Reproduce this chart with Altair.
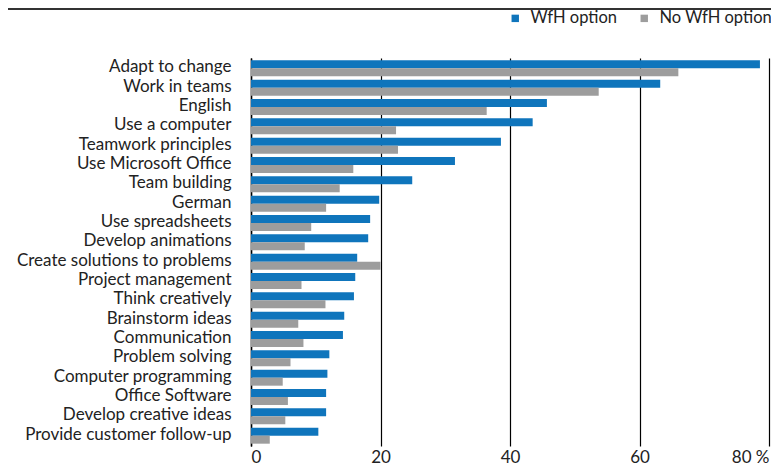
import altair as alt
import pandas as pd

categories = [
    "Adapt to change", "Work in teams", "English", "Use a computer",
    "Teamwork principles", "Use Microsoft Office", "Team building", "German",
    "Use spreadsheets", "Develop animations", "Create solutions to problems",
    "Project management", "Think creatively", "Brainstorm ideas",
    "Communication", "Problem solving", "Computer programming",
    "Office Software", "Develop creative ideas", "Provide customer follow-up",
]
wfh = [78.6, 63.2, 45.7, 43.5, 38.6, 31.5, 24.9, 19.8, 18.4, 18.1,
       16.4, 16.1, 15.9, 14.4, 14.2, 12.1, 11.8, 11.6, 11.6, 10.4]
no_wfh = [66.0, 53.7, 36.4, 22.4, 22.7, 15.8, 13.7, 11.6, 9.3, 8.3,
          20.0, 7.8, 11.5, 7.3, 8.1, 6.1, 4.9, 5.7, 5.3, 2.9]
series = ["WfH option", "No WfH option"]
colors = ["#0f75bc", "#9d9d9d"]
x_ticks = [0, 20, 40, 60, 80]

rows = []
for c, a, b in zip(categories, wfh, no_wfh):
    rows.append({"skill": c, "group": series[0], "value": a})
    rows.append({"skill": c, "group": series[1], "value": b})
df = pd.DataFrame(rows)

FONT = "Lato"

bars = alt.Chart(df).mark_bar().encode(
    y=alt.Y("skill:N", sort=categories, title=None,
            scale=alt.Scale(paddingInner=0.17, paddingOuter=0.12),
            axis=alt.Axis(labelFontSize=17, labelColor="#222222", labelFont=FONT,
                          ticks=False, domainColor="#000000", domainWidth=1.5,
                          labelPadding=20, labelLimit=300, labelBaseline="middle",
                          labelOffset=-1)),
    yOffset=alt.YOffset("group:N", sort=series),
    x=alt.X("value:Q", title=None,
            scale=alt.Scale(domain=[0, 80], nice=False),
            axis=alt.Axis(values=x_ticks, grid=True, gridColor="#000000",
                          gridWidth=1.2, domain=False, ticks=False,
                          labelFontSize=17, labelFont=FONT, labelColor="#222222",
                          labelPadding=3,
                          labelExpr="datum.value == 80 ? '80 %' : datum.label")),
    color=alt.Color("group:N", sort=series,
                    scale=alt.Scale(domain=series, range=colors),
                    legend=alt.Legend(title=None, orient="none", direction="horizontal",
                                      legendX=256, legendY=-48, symbolType="square",
                                      symbolSize=55, symbolStrokeWidth=0,
                                      labelFontSize=16.5, labelFont=FONT,
                                      labelColor="#222222", columnPadding=18,
                                      labelOffset=7, symbolOffset=0)),
)

topline = alt.Chart(pd.DataFrame({"v": [0]})).mark_rule(
    color="#333333", strokeWidth=2).encode(
    x=alt.value(-252), x2=alt.value(540), y=alt.value(-49))

chart = alt.layer(bars, topline).properties(
    width=518, height=388,
    autosize=alt.AutoSizeParams(type="none"),
    padding={"left": 243, "top": 50, "right": 2, "bottom": 22},
).configure_view(stroke=None)

chart.save("out.html", embed_options={"renderer": "svg", "actions": False})
